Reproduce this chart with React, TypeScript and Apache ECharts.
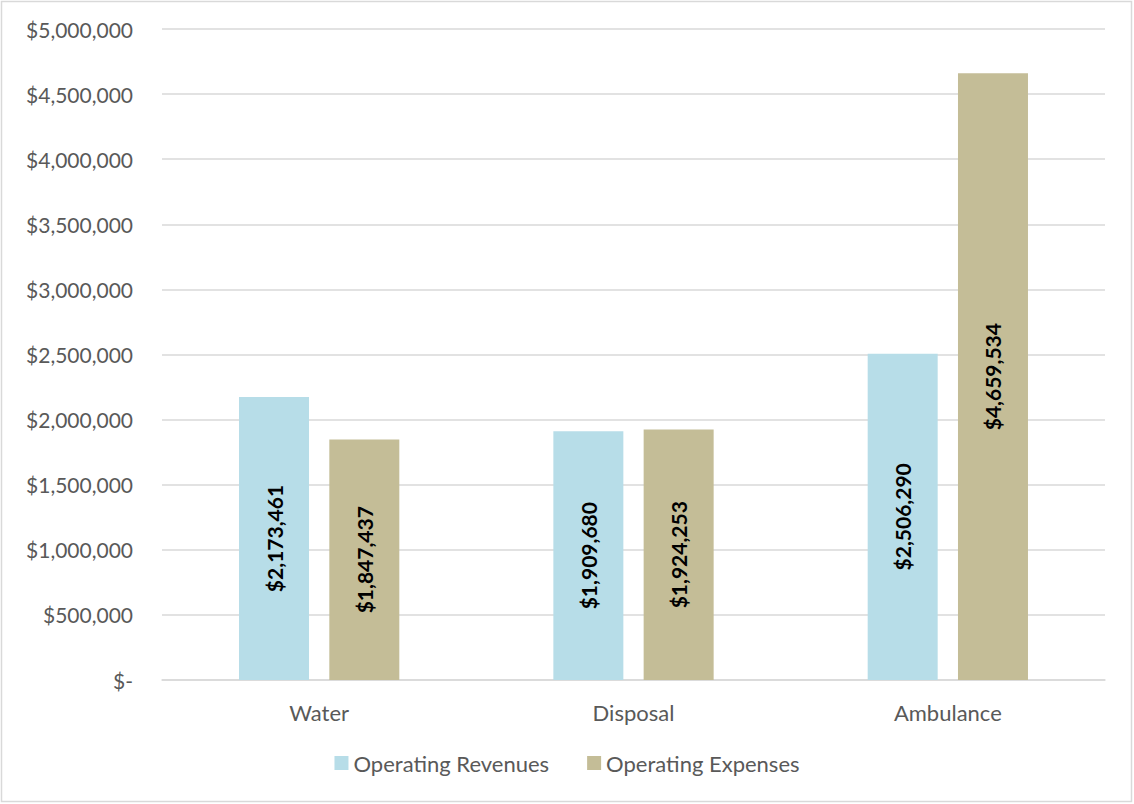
import React, { useEffect, useRef } from "react";
import * as echarts from "echarts";

// Operating results by fund
const categories = ["Water", "Disposal", "Ambulance"];
const revenues = [2173461, 1909680, 2506290];
const expenses = [1847437, 1924253, 4659534];
const seriesNames = ["Operating Revenues", "Operating Expenses"];

const FONT = "Lato, 'Open Sans', sans-serif";
const TEXT_GRAY = "#595959";

const money = (v: number) => (v === 0 ? "$-" : "$" + v.toLocaleString("en-US"));

export default function App() {
  const ref = useRef<HTMLDivElement>(null);

  useEffect(() => {
    if (!ref.current) return;
    const chart = echarts.init(ref.current, null, { renderer: "svg" });

    const barLabel = {
      show: true,
      position: "inside",
      rotate: 90,
      color: "#000",
      fontFamily: FONT,
      fontWeight: "bold",
      fontSize: 21,
      formatter: (p: any) => money(p.value),
    };

    chart.setOption({
      animation: false,
      backgroundColor: "#fff",
      textStyle: { fontFamily: FONT },
      graphic: [
        {
          type: "rect",
          shape: { x: 1.5, y: 1.5, width: 1130, height: 800 },
          style: { fill: "none", stroke: "#d9d9d9", lineWidth: 1.5 },
          silent: true,
        },
      ],
      grid: { left: 162, right: 29, top: 29, bottom: 124, containLabel: false },
      legend: {
        bottom: 25,
        left: "center",
        itemWidth: 14,
        itemHeight: 14,
        itemGap: 38,
        icon: "rect",
        textStyle: { color: TEXT_GRAY, fontSize: 22, fontFamily: FONT },
        data: seriesNames,
      },
      xAxis: {
        type: "category",
        data: categories,
        axisLine: { lineStyle: { color: "#d9d9d9", width: 1.5 } },
        axisTick: { show: false },
        axisLabel: { color: TEXT_GRAY, fontSize: 22, fontFamily: FONT, margin: 21 },
      },
      yAxis: {
        type: "value",
        min: 0,
        max: 5000000,
        interval: 500000,
        axisLine: { show: false },
        axisTick: { show: false },
        splitLine: { lineStyle: { color: "#d9d9d9", width: 1.5 } },
        axisLabel: {
          color: TEXT_GRAY,
          fontSize: 21,
          fontFamily: FONT,
          margin: 29,
          formatter: (v: number) => money(v),
        },
      },
      series: [
        {
          name: seriesNames[0],
          type: "bar",
          data: revenues,
          barWidth: 70,
          barGap: "29%",
          itemStyle: { color: "#b7dde8" },
          label: barLabel,
        },
        {
          name: seriesNames[1],
          type: "bar",
          data: expenses,
          barWidth: 70,
          itemStyle: { color: "#c4bd97" },
          label: barLabel,
        },
      ],
    });

    return () => chart.dispose();
  }, []);

  return (
    <div
      ref={ref}
      style={{ position: "fixed", left: 0, top: 0, width: 1134, height: 804 }}
    />
  );
}
